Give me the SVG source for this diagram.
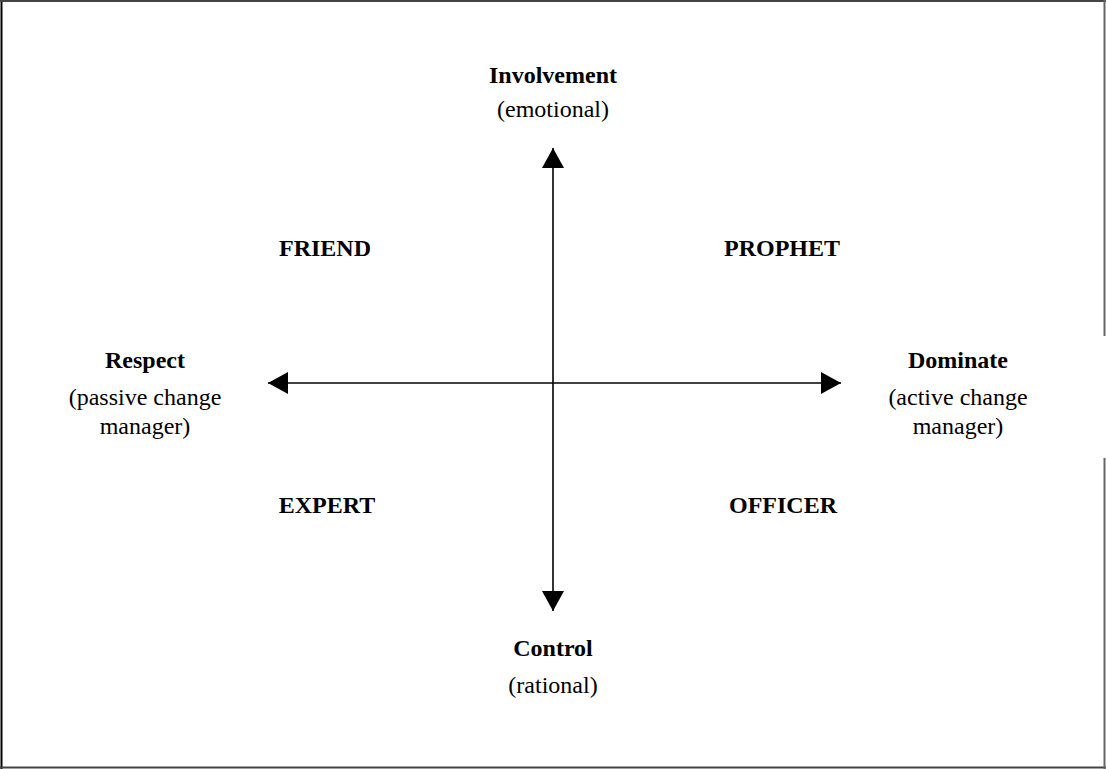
<svg xmlns="http://www.w3.org/2000/svg" width="1106" height="769" viewBox="0 0 1106 769">
<style>
text{font-family:"Liberation Serif","Times New Roman",serif;font-size:24px;fill:#000;text-anchor:middle}
.b{font-weight:bold}
.ax{stroke:#000;stroke-width:1.6;fill:none}
</style>
<defs>
<marker id="ah" viewBox="0 0 20 22" refX="20" refY="11" markerWidth="20" markerHeight="22" markerUnits="userSpaceOnUse" orient="auto-start-reverse">
<path d="M0,0 L20,11 L0,22 Z" fill="#000"/>
</marker>
</defs>
<rect width="1106" height="769" fill="#fff"/>
<g id="frame" fill="none">
<line x1="1.5" y1="0" x2="1.5" y2="769" stroke="#000" stroke-width="2"/>
<line x1="0" y1="1" x2="1106" y2="1" stroke="#444" stroke-width="2"/>
<line x1="0" y1="767.5" x2="1106" y2="767.5" stroke="#444" stroke-width="2"/>
<line x1="1104.5" y1="0" x2="1104.5" y2="336" stroke="#666" stroke-width="2"/>
<line x1="1104.5" y1="458" x2="1104.5" y2="769" stroke="#666" stroke-width="2"/>
</g>
<g id="connectors">
<line class="ax" x1="553" y1="383" x2="553" y2="148" marker-end="url(#ah)"/>
<line class="ax" x1="553" y1="383" x2="553" y2="611" marker-end="url(#ah)"/>
<line class="ax" x1="553" y1="383" x2="268" y2="383" marker-end="url(#ah)"/>
<line class="ax" x1="553" y1="383" x2="841" y2="383" marker-end="url(#ah)"/>
</g>
<g id="involvement"><text class="b" x="553" y="83">Involvement</text><text x="553" y="117">(emotional)</text></g>
<g id="control"><text class="b" x="553" y="656">Control</text><text x="553" y="693">(rational)</text></g>
<g id="respect"><text class="b" x="145" y="368">Respect</text><text x="145" y="405">(passive change</text><text x="145" y="434">manager)</text></g>
<g id="dominate"><text class="b" x="958" y="368">Dominate</text><text x="958" y="405">(active change</text><text x="958" y="434">manager)</text></g>
<g id="friend"><text class="b" x="325" y="256">FRIEND</text></g>
<g id="prophet"><text class="b" x="782" y="256">PROPHET</text></g>
<g id="expert"><text class="b" x="327" y="513">EXPERT</text></g>
<g id="officer"><text class="b" x="783" y="513">OFFICER</text></g>
</svg>
